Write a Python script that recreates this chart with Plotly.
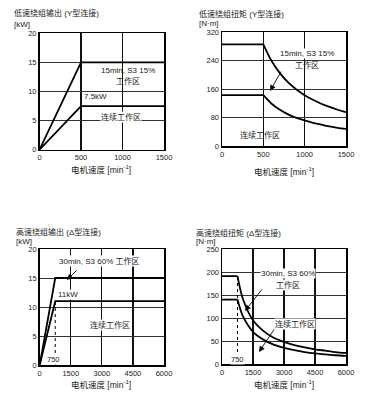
import plotly.graph_objects as go

# ---- data ----
# Panel 1: low-speed winding output (Y)
p1_speed = [0, 500, 1500]
p1_s3 = [0, 15, 15]
p1_cont = [0, 7.5, 7.5]
p1_xticks = [0, 500, 1000, 1500]
p1_yticks = [0, 5, 10, 15, 20]

# Panel 2: low-speed winding torque (Y)
p2_speed = [0, 500, 600, 700, 800, 900, 1000, 1100, 1200, 1300, 1400, 1500]
p2_s3 = [286, 286, 239, 205, 179, 159, 143, 130, 119, 110, 102, 95]
p2_cont = [143, 143, 119, 102, 89, 79, 72, 65, 60, 55, 51, 48]
p2_xticks = [0, 500, 1000, 1500]
p2_yticks = [0, 80, 160, 240, 320]

# Panel 3: high-speed winding output (delta)
p3_speed = [0, 750, 6000]
p3_s3 = [0, 15, 15]
p3_cont = [0, 11, 11]
p3_xticks = [0, 1500, 3000, 4500, 6000]
p3_yticks = [0, 5, 10, 15, 20]

# Panel 4: high-speed winding torque (delta)
p4_speed = [0, 750, 1000, 1500, 2000, 2500, 3000, 3500, 4000, 4500, 5000, 5500, 6000]
p4_s3 = [191, 191, 143, 95, 72, 57, 48, 41, 36, 32, 29, 26, 24]
p4_cont = [140, 140, 105, 70, 53, 42, 35, 30, 26, 23, 21, 19, 17.5]
p4_xticks = [0, 1500, 3000, 4500, 6000]
p4_yticks = [0, 50, 100, 150, 200, 250]

base_speed_hi = 750

W, H = 370, 400
FONT = "Liberation Sans, Noto Sans CJK SC, sans-serif"
TXT = "#222"

def px(x):
    return x / W

def py(y):
    return 1 - y / H

fig = go.Figure()

panels = [
    ("x", "y", (39.5, 164), (33.3, 149.7), [0, 1500], [0, 20], p1_xticks, p1_yticks),
    ("x2", "y2", (222, 346), (32.3, 146), [0, 1500], [0, 320], p2_xticks, p2_yticks),
    ("x3", "y3", (39.7, 164), (249, 365), [0, 6000], [0, 20], p3_xticks, p3_yticks),
    ("x4", "y4", (222, 346), (249, 364), [0, 6000], [0, 250], p4_xticks, p4_yticks),
]

line = dict(color="black", width=1.8)
curve = dict(color="black", width=1.8, shape="spline", smoothing=0.8)
dot = dict(color="black", width=1, dash="dot")

def add(x, y, ln, xa, ya):
    fig.add_trace(go.Scatter(x=x, y=y, mode="lines", line=ln, xaxis=xa, yaxis=ya, hoverinfo="skip"))

add(p1_speed, p1_s3, line, "x", "y")
add(p1_speed, p1_cont, line, "x", "y")

# torque: flat part + hyperbolic part
add(p2_speed[:2], p2_s3[:2], line, "x2", "y2")
add(p2_speed[1:], p2_s3[1:], curve, "x2", "y2")
add(p2_speed[:2], p2_cont[:2], line, "x2", "y2")
add(p2_speed[1:], p2_cont[1:], curve, "x2", "y2")

add([base_speed_hi, base_speed_hi], [0, p3_cont[1]], dot, "x3", "y3")
add(p3_speed, p3_s3, line, "x3", "y3")
add(p3_speed, p3_cont, line, "x3", "y3")

add([base_speed_hi, base_speed_hi], [0, p4_s3[1]], dot, "x4", "y4")
add(p4_speed[:2], p4_s3[:2], line, "x4", "y4")
add(p4_speed[1:], p4_s3[1:], curve, "x4", "y4")
add(p4_speed[:2], p4_cont[:2], line, "x4", "y4")
add(p4_speed[1:], p4_cont[1:], curve, "x4", "y4")

layout = dict(
    width=W, height=H,
    margin=dict(l=0, r=0, t=0, b=0),
    paper_bgcolor="white", plot_bgcolor="white",
    showlegend=False,
    font=dict(family=FONT, size=8, color=TXT),
)

for xa, ya, xd, yd, xr, yr, xt, yt in panels:
    xk = "xaxis" + xa[1:]
    yk = "yaxis" + ya[1:]
    layout[xk] = dict(
        domain=[px(xd[0]), px(xd[1])], range=xr, tickvals=xt, ticktext=[str(v) for v in xt],
        anchor=ya, showline=True, mirror=True, linecolor="black", linewidth=1.5,
        showgrid=True, gridcolor="#111", gridwidth=1.2, zeroline=False, ticks="", ticklen=0,
        tickfont=dict(size=7.5, color=TXT), fixedrange=True, automargin=False,
    )
    layout[yk] = dict(
        domain=[py(yd[1]), py(yd[0])], range=yr, tickvals=yt, ticktext=[str(v) for v in yt],
        anchor=xa, showline=True, mirror=True, linecolor="black", linewidth=1.5,
        showgrid=True, gridcolor="#333", gridwidth=1, zeroline=False, ticks="", ticklen=0,
        tickfont=dict(size=7.5, color=TXT), fixedrange=True, automargin=False,
    )

fig.update_layout(**layout)

def txt(x, y, s, size=8, bg=None, xanchor="center"):
    fig.add_annotation(x=px(x), y=py(y), xref="paper", yref="paper", text=s, showarrow=False,
                       font=dict(size=size, color=TXT, family=FONT), xanchor=xanchor, yanchor="middle",
                       bgcolor=bg, borderpad=0)

def arrow(tx, ty, hx, hy):
    fig.add_annotation(x=px(hx), y=py(hy), xref="paper", yref="paper", text="", showarrow=True,
                       ax=tx - hx, ay=ty - hy, arrowhead=2, arrowsize=1.3, arrowwidth=0.9,
                       arrowcolor="black")

# titles
txt(13, 13, "低速绕组输出 (Y型连接)", size=8, xanchor="left")
txt(13, 24.5, "[kW]", size=8, xanchor="left")
txt(198, 14, "低速绕组扭矩 (Y型连接)", size=8, xanchor="left")
txt(198, 23.5, "[N·m]", size=8, xanchor="left")
txt(15, 232, "高速绕组输出 (Δ型连接)", size=8, xanchor="left")
txt(15, 241, "[kW]", size=8, xanchor="left")
txt(195, 232.5, "高速绕组扭矩 (Δ型连接)", size=8, xanchor="left")
txt(195, 241, "[N·m]", size=8, xanchor="left")

# x-axis titles
txt(101.5, 169, "电机速度 [min<sup>-1</sup>]", size=8.5)
txt(284, 172, "电机速度 [min<sup>-1</sup>]", size=8.5)
txt(101.5, 384, "电机速度 [min<sup>-1</sup>]", size=8.5)
txt(284, 384, "电机速度 [min<sup>-1</sup>]", size=8.5)

# panel 1 labels
txt(128, 70, "15min, S3 15%", size=8)
txt(128, 81, "工作区", size=8)
txt(83, 97, "7.5kW", size=8, xanchor="left")
txt(121, 117.5, "连续工作区", size=8, bg="white")

# panel 2 labels
txt(307, 53, "15min, S3 15%", size=8, bg="white")
txt(307, 65, "工作区", size=8)
arrow(282, 70, 270, 91)
txt(260, 135, "连续工作区", size=8)

# panel 3 labels
txt(99, 261, "30min, S3 60% 工作区", size=8, bg="white")
arrow(78, 269, 67, 280)
txt(57, 294, "11kW", size=8, xanchor="left", bg="white")
txt(110, 325, "连续工作区", size=8, bg="white")
txt(53, 359, "750", size=7.5, bg="white")

# panel 4 labels
txt(288, 273, "30min, S3 60%", size=8, bg="white")
txt(288, 285, "工作区", size=8, bg="white")
arrow(263, 288, 245, 311)
txt(295, 324, "连续工作区", size=8, bg="white")
arrow(275, 328, 259, 352)
txt(237, 359, "750", size=7.5, bg="white")

fig.write_html("out.html", config={"displayModeBar": False, "staticPlot": True},
               post_script="document.body.style.margin='0';document.body.style.overflow='hidden';")
